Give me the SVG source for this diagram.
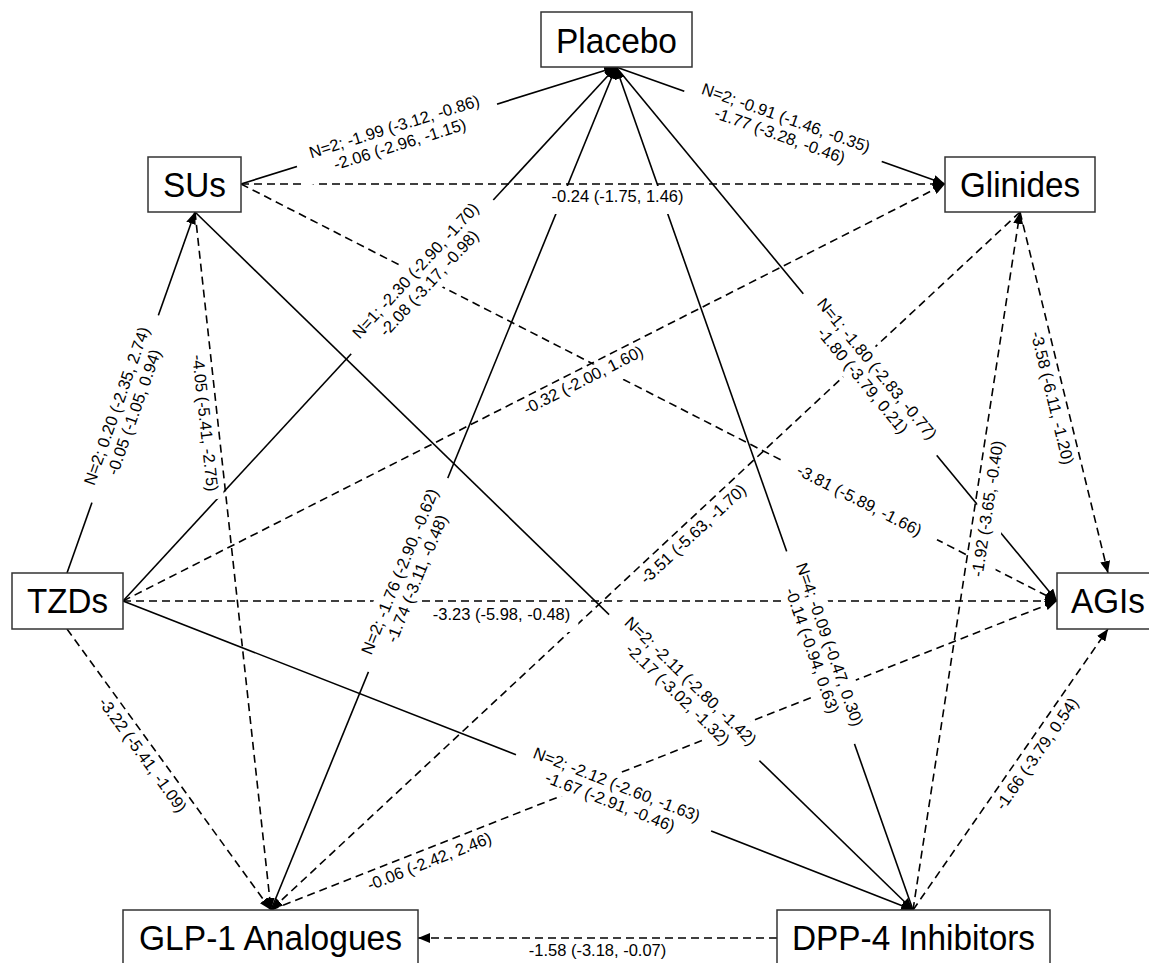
<svg xmlns="http://www.w3.org/2000/svg" width="1149" height="963" viewBox="0 0 1149 963">
<style>
.e{stroke:#000;stroke-width:1.6;fill:none}
.d{stroke-dasharray:8 5}
.n rect{fill:#fff;stroke:#333;stroke-width:1.5}
.n text{font-family:"Liberation Sans",Arial,sans-serif;font-size:35.5px;text-anchor:middle;fill:#000}
.l rect{fill:#fff;stroke:none}
.l text{font-family:"Liberation Sans",Arial,sans-serif;font-size:16.5px;text-anchor:middle;fill:#000}
</style>
<defs>
<marker id="ah" markerUnits="userSpaceOnUse" markerWidth="12" markerHeight="10" viewBox="0 0 12 10" refX="12" refY="5" orient="auto"><path d="M0,0 L12,5 L0,10 z" fill="#000" stroke="none"/></marker>
</defs>
<rect width="1149" height="963" fill="#fff"/>
<g id="connectors">
<path class="e" d="M241,184 L616,67" marker-end="url(#ah)"/>
<path class="e" d="M616,67 L945,184" marker-end="url(#ah)"/>
<path class="e d" d="M241,184 L945,184" marker-end="url(#ah)"/>
<path class="e" d="M67,573 L195,212" marker-end="url(#ah)"/>
<path class="e d" d="M195,212 L271,910" marker-end="url(#ah)"/>
<path class="e" d="M195,212 L913,910" marker-end="url(#ah)"/>
<path class="e d" d="M241,184 L1057,601" marker-end="url(#ah)"/>
<path class="e" d="M123,601 L616,67" marker-end="url(#ah)"/>
<path class="e d" d="M123,601 L945,184" marker-end="url(#ah)"/>
<path class="e d" d="M123,601 L1057,601" marker-end="url(#ah)"/>
<path class="e" d="M123,601 L913,910" marker-end="url(#ah)"/>
<path class="e d" d="M67,629 L271,910" marker-end="url(#ah)"/>
<path class="e" d="M271,910 L616,67" marker-end="url(#ah)"/>
<path class="e d" d="M1020,212 L271,910" marker-end="url(#ah)"/>
<path class="e" d="M913,910 L616,67" marker-end="url(#ah)"/>
<path class="e" d="M616,67 L1057,601" marker-end="url(#ah)"/>
<path class="e d" d="M913,910 L1020,212" marker-end="url(#ah)"/>
<path class="e d" d="M1020,212 L1108,573" marker-end="url(#ah)"/>
<path class="e d" d="M271,910 L1057,601" marker-end="url(#ah)"/>
<path class="e d" d="M913,910 L1108,629" marker-end="url(#ah)"/>
<path class="e d" d="M777,938 L418,938" marker-end="url(#ah)"/>
</g>
<g id="labels" class="l">
<g transform="translate(397,135.3) rotate(-17.33)"><rect x="-104.75" y="-22" width="209.5" height="44"/><text y="-3.45">N=2; -1.99 (-3.12, -0.86)</text><text y="15.05">-2.06 (-2.96, -1.15)</text></g>
<g transform="translate(783,126.4) rotate(19.57)"><rect x="-104.75" y="-22" width="209.5" height="44"/><text y="-3.45">N=2; -0.91 (-1.46, -0.35)</text><text y="15.05">-1.77 (-3.28, -0.46)</text></g>
<g transform="translate(617.5,196.5)"><rect x="-74" y="-10.5" width="148" height="28"/><text y="5.8">-0.24 (-1.75, 1.46)</text></g>
<g transform="translate(125.2,409) rotate(-70.47)"><rect x="-99.25" y="-22" width="198.5" height="44"/><text y="-3.45">N=2; 0.20 (-2.35, 2.74)</text><text y="15.05">-0.05 (-1.05, 0.94)</text></g>
<g transform="translate(205.4,423) rotate(83.79)"><rect x="-76.8" y="-10.5" width="153.6" height="28"/><text y="5.8">-4.05 (-5.41, -2.75)</text></g>
<g transform="translate(684.3,687.6) rotate(44.19)"><rect x="-104.75" y="-22" width="209.5" height="44"/><text y="-3.45">N=2; -2.11 (-2.80, -1.42)</text><text y="15.05">-2.17 (-3.02, -1.32)</text></g>
<g transform="translate(859.5,500.1) rotate(27.07)"><rect x="-87" y="-12" width="174" height="24"/><text y="5.8">-3.81 (-5.89, -1.66)</text></g>
<g transform="translate(422.1,276.8) rotate(-47.29)"><rect x="-104.75" y="-22" width="209.5" height="44"/><text y="-3.45">N=1; -2.30 (-2.90, -1.70)</text><text y="15.05">-2.08 (-3.17, -0.98)</text></g>
<g transform="translate(583.2,379.9) rotate(-26.9)"><rect x="-74" y="-9" width="148" height="26.5"/><text y="5.8">-0.32 (-2.00, 1.60)</text></g>
<g transform="translate(501.5,614.5)"><rect x="-76.8" y="-11" width="153.6" height="28.5"/><text y="5.8">-3.23 (-5.98, -0.48)</text></g>
<g transform="translate(613.5,793) rotate(21.36)"><rect x="-104.75" y="-22" width="209.5" height="44"/><text y="-3.45">N=2; -2.12 (-2.60, -1.63)</text><text y="15.05">-1.67 (-2.91, -0.46)</text></g>
<g transform="translate(142.8,754.7) rotate(54.03)"><rect x="-76.8" y="-10.5" width="153.6" height="28"/><text y="5.8">-3.22 (-5.41, -1.09)</text></g>
<g transform="translate(408.1,575) rotate(-67.74)"><rect x="-104.75" y="-22" width="209.5" height="44"/><text y="-3.45">N=2; -1.76 (-2.90, -0.62)</text><text y="15.05">-1.74 (-3.11, -0.48)</text></g>
<g transform="translate(692.9,533.9) rotate(-42.98)"><rect x="-76.8" y="-10.5" width="153.6" height="28"/><text y="5.8">-3.51 (-5.63, -1.70)</text></g>
<g transform="translate(821,647.5) rotate(70.59)"><rect x="-102" y="-22" width="204" height="44"/><text y="-3.45">N=4; -0.09 (-0.47, 0.30)</text><text y="15.05">-0.14 (-0.94, 0.63)</text></g>
<g transform="translate(870,374.6) rotate(50.45)"><rect x="-104.75" y="-22" width="209.5" height="44"/><text y="-3.45">N=1; -1.80 (-2.83, -0.77)</text><text y="15.05">-1.80 (-3.79, 0.21)</text></g>
<g transform="translate(987.2,508.7) rotate(-81.28)"><rect x="-76.8" y="-10.5" width="153.6" height="28"/><text y="5.8">-1.92 (-3.65, -0.40)</text></g>
<g transform="translate(1052.5,397.9) rotate(76.3)"><rect x="-76.8" y="-10.5" width="153.6" height="28"/><text y="5.8">-3.58 (-6.11, -1.20)</text></g>
<g transform="translate(429.3,861.2) rotate(-21.46)"><rect x="-74" y="-10.5" width="148" height="28"/><text y="5.8">-0.06 (-2.42, 2.46)</text></g>
<g transform="translate(1036.7,753.7) rotate(-55.24)"><rect x="-74" y="-10.5" width="148" height="28"/><text y="5.8">-1.66 (-3.79, 0.54)</text></g>
<g transform="translate(597.5,950.5)"><rect x="-76.8" y="-10.5" width="153.6" height="24"/><text y="5.8">-1.58 (-3.18, -0.07)</text></g>
</g>
<g id="node-placebo" class="n"><rect x="541" y="12" width="151" height="55"/><text x="616.5" y="53" textLength="121" lengthAdjust="spacingAndGlyphs">Placebo</text></g>
<g id="node-sus" class="n"><rect x="148" y="157" width="93" height="55"/><text x="194.5" y="197" textLength="63" lengthAdjust="spacingAndGlyphs">SUs</text></g>
<g id="node-glinides" class="n"><rect x="945" y="157" width="150" height="55"/><text x="1020" y="197" textLength="120" lengthAdjust="spacingAndGlyphs">Glinides</text></g>
<g id="node-tzds" class="n"><rect x="12" y="573" width="111" height="56"/><text x="67.5" y="613" textLength="81" lengthAdjust="spacingAndGlyphs">TZDs</text></g>
<g id="node-agis" class="n"><rect x="1057" y="573" width="102" height="56"/><text x="1108" y="613" textLength="74" lengthAdjust="spacingAndGlyphs">AGIs</text></g>
<g id="node-glp1" class="n"><rect x="123" y="910" width="295" height="56"/><text x="270.5" y="950" textLength="263" lengthAdjust="spacingAndGlyphs">GLP-1 Analogues</text></g>
<g id="node-dpp4" class="n"><rect x="777" y="910" width="273" height="56"/><text x="913.5" y="950" textLength="243" lengthAdjust="spacingAndGlyphs">DPP-4 Inhibitors</text></g>
</svg>
